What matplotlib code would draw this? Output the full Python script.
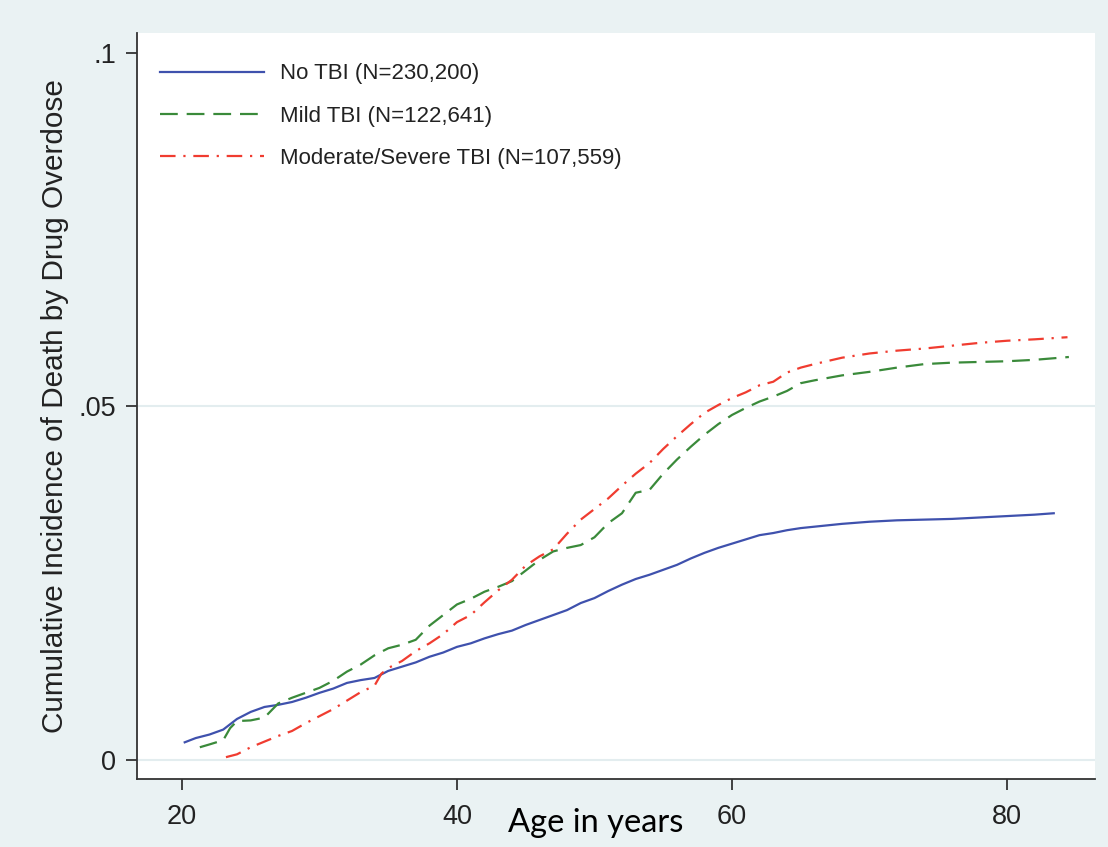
import matplotlib
matplotlib.use("Agg")
import matplotlib.pyplot as plt

# ---- data ----
no_tbi_age = [20.2, 21, 22, 23, 24, 25, 26, 27, 28, 29, 30, 31, 32, 33, 34, 35, 36, 37, 38, 39,
              40, 41, 42, 43, 44, 45, 46, 47, 48, 49, 50, 51, 52, 53, 54, 55, 56, 57, 58, 59,
              60, 61, 62, 63, 64, 65, 66, 67, 68, 70, 72, 74, 76, 78, 80, 82, 83.4]
no_tbi_ci = [0.0025, 0.0031, 0.0036, 0.0043, 0.0058, 0.0068, 0.0075, 0.0078, 0.0082, 0.0088,
             0.0095, 0.0101, 0.0109, 0.0113, 0.0116, 0.0126, 0.0132, 0.0138, 0.0146, 0.0152,
             0.0160, 0.0165, 0.0172, 0.0178, 0.0183, 0.0191, 0.0198, 0.0205, 0.0212, 0.0222,
             0.0229, 0.0239, 0.0248, 0.0256, 0.0262, 0.0269, 0.0276, 0.0285, 0.0293, 0.0300,
             0.0306, 0.0312, 0.0318, 0.0321, 0.0325, 0.0328, 0.0330, 0.0332, 0.0334, 0.0337,
             0.0339, 0.0340, 0.0341, 0.0343, 0.0345, 0.0347, 0.0349]

mild_age = [21.3, 22, 23, 23.5, 24, 25, 26, 27, 28, 29, 30, 31, 32, 33, 34, 35, 36, 37, 38, 39,
            40, 41, 42, 43, 44, 45, 46, 47, 48, 49, 50, 51, 52, 53, 54, 55, 56, 57, 58, 59,
            60, 61, 62, 63, 64, 65, 66, 68, 70, 72, 74, 76, 78, 80, 82, 84.5]
mild_ci = [0.0018, 0.0022, 0.0028, 0.0045, 0.0055, 0.0056, 0.0060, 0.0080, 0.0088, 0.0095,
           0.0102, 0.0112, 0.0125, 0.0135, 0.0148, 0.0158, 0.0163, 0.0170, 0.0190, 0.0205,
           0.0220, 0.0228, 0.0238, 0.0245, 0.0253, 0.0268, 0.0283, 0.0295, 0.0300, 0.0304,
           0.0315, 0.0335, 0.0349, 0.0378, 0.0382, 0.0405, 0.0425, 0.0443, 0.0460, 0.0475,
           0.0488, 0.0498, 0.0507, 0.0514, 0.0522, 0.0533, 0.0537, 0.0544, 0.0549, 0.0555,
           0.0560, 0.0562, 0.0563, 0.0564, 0.0566, 0.0570]

modsev_age = [23.2, 24, 25, 26, 27, 28, 29, 30, 31, 32, 33, 34, 34.5, 35, 36, 37, 38, 39,
              40, 41, 42, 43, 44, 45, 46, 47, 48, 49, 50, 51, 52, 53, 54, 55, 56, 57, 58, 59,
              60, 61, 62, 63, 64, 65, 66, 68, 70, 72, 74, 76, 78, 80, 82, 84.4]
modsev_ci = [0.0004, 0.0008, 0.0018, 0.0026, 0.0034, 0.0041, 0.0052, 0.0062, 0.0072, 0.0084,
             0.0096, 0.0105, 0.0122, 0.0130, 0.0140, 0.0154, 0.0165, 0.0178,
             0.0195, 0.0205, 0.0223, 0.0240, 0.0255, 0.0275, 0.0288, 0.0298, 0.0320, 0.0340,
             0.0355, 0.0370, 0.0388, 0.0405, 0.0420, 0.0440, 0.0458, 0.0475, 0.0491, 0.0502,
             0.0512, 0.0520, 0.0530, 0.0535, 0.0548, 0.0555, 0.0560, 0.0569, 0.0575, 0.0579,
             0.0582, 0.0586, 0.0590, 0.0593, 0.0595, 0.0598]

series_labels = ["No TBI (N=230,200)", "Mild TBI (N=122,641)", "Moderate/Severe TBI (N=107,559)"]
x_ticks = [20, 40, 60, 80]
x_tick_labels = ["20", "40", "60", "80"]
y_ticks = [0, 0.05, 0.1]
y_tick_labels = ["0", ".05", ".1"]
grid_levels = [0, 0.05]

# ---- styling ----
BG = "#EAF2F3"
BLUE = "#3F51AD"
GREEN = "#3A8A3A"
RED = "#F03C30"
TXT = "#222222"
AX = "#333333"

plt.rcParams["font.family"] = ["Liberation Sans", "DejaVu Sans"]

fig = plt.figure(figsize=(11.08, 8.47), dpi=100, facecolor=BG)
ax = fig.add_axes([137 / 1108, 1 - 779 / 847, (1095 - 137) / 1108, (779 - 33) / 847])
ax.set_facecolor("white")

for g in grid_levels:
    ax.axhline(g, color="#E3EDEF", lw=1.5, zorder=0)

ax.plot(no_tbi_age, no_tbi_ci, color=BLUE, lw=1.6, solid_joinstyle="round", label=series_labels[0])
ax.plot(mild_age, mild_ci, color=GREEN, lw=1.6, linestyle=(0, (8, 4)), label=series_labels[1])
ax.plot(modsev_age, modsev_ci, color=RED, lw=1.6, linestyle=(0, (7, 3.5, 1, 3.5)), label=series_labels[2])

ax.set_xlim(16.73, 86.4)
ax.set_ylim(-0.00269, 0.10283)

ax.set_xticks(x_ticks)
ax.set_xticklabels(x_tick_labels)
ax.set_yticks(y_ticks)
ax.set_yticklabels(y_tick_labels)

for s in ["top", "right"]:
    ax.spines[s].set_visible(False)
for s in ["left", "bottom"]:
    ax.spines[s].set_color(AX)
    ax.spines[s].set_linewidth(1.3)

ax.tick_params(axis="both", direction="out", length=8, width=1.3, color=AX,
               labelsize=19.5, labelcolor=TXT)
ax.tick_params(axis="x", pad=10)
ax.tick_params(axis="y", pad=7)

ax.set_ylabel("Cumulative Incidence of Death by Drug Overdose", fontsize=21.4, color=TXT)
ax.yaxis.set_label_coords((69 - 137) / 958, 0.5)

leg = ax.legend(loc="upper left", bbox_to_anchor=(0.008, 0.98), frameon=False,
                fontsize=16, handlelength=4.65, handletextpad=0.75, labelspacing=0.95,
                borderaxespad=0.3)
for t in leg.get_texts():
    t.set_color(TXT)

fig.text(596 / 1108, (847 - 832) / 847, "Age in years", family=["Lato", "DejaVu Sans"],
         fontsize=23.5, color="black", ha="center", va="baseline")

fig.savefig("out.png", dpi=100, facecolor=BG)
